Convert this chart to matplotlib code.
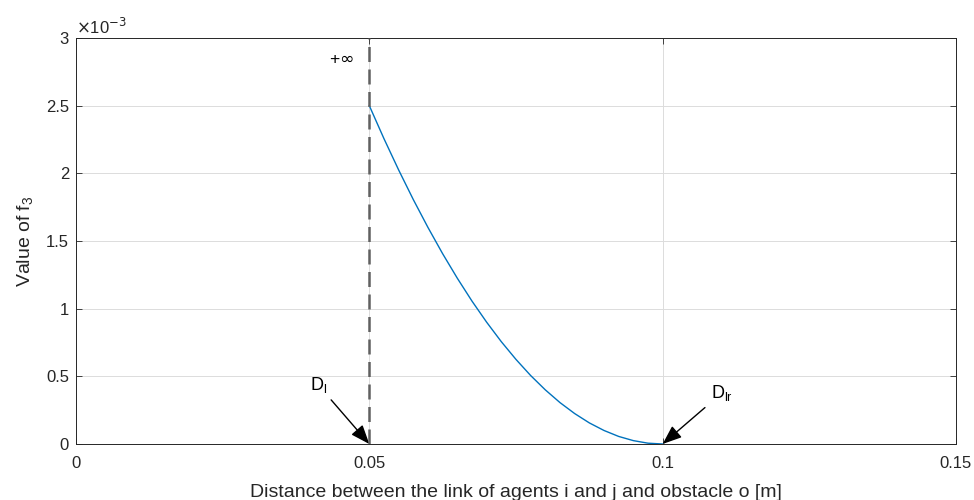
import numpy as np
import matplotlib
matplotlib.use("Agg")
import matplotlib.pyplot as plt
from matplotlib.ticker import FuncFormatter

plt.rcParams['font.family'] = ['Liberation Sans', 'DejaVu Sans']

# distance [m] and f3 value
dist = [0.05, 0.0525, 0.055, 0.0575, 0.06, 0.0625, 0.065, 0.0675, 0.07, 0.0725,
        0.075, 0.0775, 0.08, 0.0825, 0.085, 0.0875, 0.09, 0.0925, 0.095, 0.0975, 0.1]
f3 = [2.5e-3, 2.256e-3, 2.025e-3, 1.806e-3, 1.6e-3, 1.406e-3, 1.225e-3, 1.056e-3,
      0.9e-3, 0.756e-3, 0.625e-3, 0.506e-3, 0.4e-3, 0.306e-3, 0.225e-3, 0.156e-3,
      0.1e-3, 0.056e-3, 0.025e-3, 0.006e-3, 0.0]
d_l = 0.05
d_lr = 0.1
xticks = [0, 0.05, 0.1, 0.15]
yticks = [0, 0.5e-3, 1e-3, 1.5e-3, 2e-3, 2.5e-3, 3e-3]

tc = '#262626'
fig = plt.figure(figsize=(9.74, 5.0), dpi=100)
ax = fig.add_axes([0.078, 0.112, 0.9035, 0.812])

ax.plot(dist, f3, color='#0072BD', lw=1.0, zorder=3)
ax.plot([d_l, d_l], [0, 3e-3], color='#606060', lw=1.8, ls=(0, (6, 3)), zorder=4)

ax.set_xlim(0, 0.15)
ax.set_ylim(0, 3e-3)
ax.set_xticks(xticks)
ax.set_yticks(yticks)
ax.xaxis.set_major_formatter(FuncFormatter(lambda v, p: '%g' % round(v, 4)))
ax.yaxis.set_major_formatter(FuncFormatter(lambda v, p: '%g' % round(v * 1e3, 4)))
ax.tick_params(direction='in', top=True, right=True, labelsize=12, colors=tc,
               length=4, width=0.6, labelcolor=tc)
ax.tick_params(axis='x', pad=9)
ax.tick_params(axis='y', pad=5)
for s in ax.spines.values():
    s.set_color(tc)
    s.set_linewidth(0.7)
ax.grid(True, color='#dcdcdc', lw=0.7)
ax.set_axisbelow(True)

ax.text(0.0, 1.003, r'$\times$10$^{-3}$', transform=ax.transAxes, fontsize=12,
        color=tc, ha='left', va='bottom')
ax.text(0.0452, 2.845e-3, r'+$\infty$', fontsize=12.5, color='black', ha='center', va='center')

ax.annotate(r'D$_\mathregular{l}$', xy=(d_l, 0), xytext=(0.0413, 0.436e-3),
            fontsize=13, ha='center', va='center',
            arrowprops=dict(arrowstyle='-|>,head_length=0.9,head_width=0.35',
                            color='black', lw=1.0, shrinkA=2, shrinkB=0))
ax.annotate(r'D$_\mathregular{lr}$', xy=(d_lr, 0), xytext=(0.1101, 0.377e-3),
            fontsize=13, ha='center', va='center',
            arrowprops=dict(arrowstyle='-|>,head_length=0.9,head_width=0.35',
                            color='black', lw=1.0, shrinkA=3, shrinkB=0))

ax.set_xlabel('Distance between the link of agents i and j and obstacle o [m]',
              fontsize=14, color=tc, labelpad=9)
ax.set_ylabel(r'Value of f$_\mathregular{3}$', fontsize=14, color=tc, labelpad=7)

fig.savefig('out.png', dpi=100)
